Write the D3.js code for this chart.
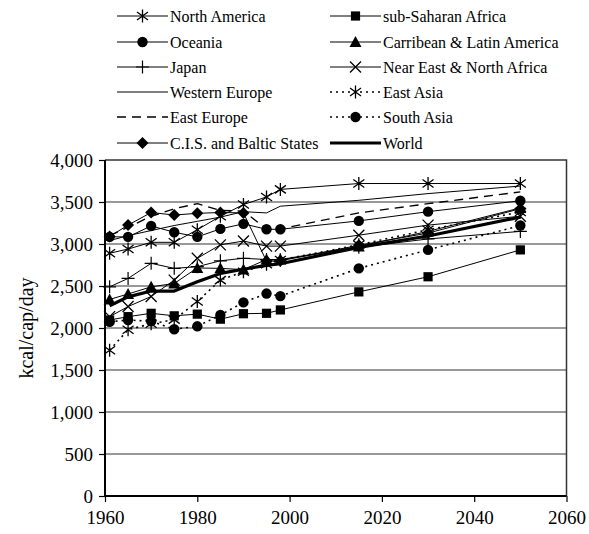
<!DOCTYPE html>
<html>
<head>
<meta charset="utf-8">
<script src="https://cdn.jsdelivr.net/npm/d3@7"></script>
<style>
  body { margin: 0; background: #fff; }
  svg { display: block; }
  text { font-family: "Liberation Serif", "Times New Roman", serif; fill: #000; }
</style>
</head>
<body>
<svg id="chart" width="589" height="534"></svg>
<script>
// Food supply per person, kcal/cap/day
const years = [1961, 1965, 1970, 1975, 1980, 1985, 1990, 1995, 1998, 2015, 2030, 2050];

const northAmerica     = [2890, 2940, 3020, 3020, 3170, 3330, 3470, 3560, 3650, 3720, 3720, 3720];
const subSaharanAfrica = [2095, 2135, 2175, 2145, 2165, 2105, 2170, 2175, 2215, 2430, 2610, 2930];
const oceania          = [3085, 3085, 3215, 3140, 3085, 3180, 3240, 3175, 3175, 3275, 3385, 3515];
const latinAmerica     = [2340, 2405, 2490, 2530, 2715, 2710, 2695, 2815, 2815, 2970, 3150, 3430];
const japan            = [2490, 2590, 2770, 2710, 2730, 2800, 2830, 2815, 2810, 2960, 3060, 3150];
const nearEast         = [2135, 2255, 2375, 2570, 2830, 2990, 3035, 2975, 2975, 3105, 3225, 3330];
const westernEurope    = [3040, 3100, 3160, 3220, 3270, 3320, 3385, 3370, 3450, 3520, 3600, 3690];
const eastAsia         = [1735, 1980, 2050, 2100, 2315, 2570, 2670, 2760, 2810, 2990, 3170, 3380];
const eastEurope       = [3100, 3200, 3330, 3420, 3480, 3400, 3390, 3180, 3180, 3370, 3480, 3620];
const southAsia        = [2075, 2095, 2080, 1985, 2020, 2155, 2305, 2410, 2380, 2710, 2930, 3220];
const cisBaltic        = [3090, 3225, 3375, 3345, 3365, 3375, 3370, 2795, 2800, 2985, 3130, 3420];
const world            = [2265, 2370, 2440, 2440, 2550, 2650, 2700, 2745, 2765, 2960, 3095, 3320];

const xTicks = [1960, 1980, 2000, 2020, 2040, 2060];
const yTicks = [0, 500, 1000, 1500, 2000, 2500, 3000, 3500, 4000];

// name, values, marker, line style
const series = [
  { name: "North America",              values: northAmerica,     marker: "asterisk", dash: null,  width: 1 },
  { name: "Oceania",                    values: oceania,          marker: "circle",   dash: null,  width: 1 },
  { name: "Japan",                      values: japan,            marker: "plus",     dash: null,  width: 1 },
  { name: "Western Europe",             values: westernEurope,    marker: null,       dash: null,  width: 1 },
  { name: "East Europe",                values: eastEurope,       marker: null,       dash: "9,6", width: 1.4 },
  { name: "C.I.S. and Baltic States",   values: cisBaltic,        marker: "diamond",  dash: null,  width: 1 },
  { name: "sub-Saharan Africa",         values: subSaharanAfrica, marker: "square",   dash: null,  width: 1 },
  { name: "Carribean & Latin America",  values: latinAmerica,     marker: "triangle", dash: null,  width: 1 },
  { name: "Near East & North Africa",   values: nearEast,         marker: "x",        dash: null,  width: 1 },
  { name: "East Asia",                  values: eastAsia,         marker: "asterisk", dash: "2,4", width: 1.6 },
  { name: "South Asia",                 values: southAsia,        marker: "circle",   dash: "2,4", width: 1.6 },
  { name: "World",                      values: world,            marker: null,       dash: null,  width: 3.2 }
];

const svg = d3.select("#chart");
const plot = { left: 105, right: 566.5, top: 160, bottom: 496 };

const x = d3.scaleLinear().domain([1960, 2060]).range([plot.left, plot.right]);
const y = d3.scaleLinear().domain([0, 4000]).range([plot.bottom, plot.top]);

// horizontal gridlines
svg.append("g")
  .selectAll("line")
  .data(yTicks.filter(v => v > 0 && v < 4000))
  .join("line")
  .attr("x1", plot.left).attr("x2", plot.right)
  .attr("y1", d => y(d)).attr("y2", d => y(d))
  .attr("stroke", "#777").attr("stroke-width", 1.3);

// frame: top and right edges
svg.append("path")
  .attr("d", `M${plot.left},${plot.top}H${plot.right}V${plot.bottom}`)
  .attr("fill", "none").attr("stroke", "#333").attr("stroke-width", 1.5);

// axes
const xAxis = d3.axisBottom(x).tickValues(xTicks).tickFormat(d3.format("d")).tickSize(6).tickPadding(9);
const yAxis = d3.axisLeft(y).tickValues(yTicks).tickFormat(d3.format(",")).tickSize(6).tickPadding(6);

const gx = svg.append("g").attr("transform", `translate(0,${plot.bottom})`).call(xAxis);
const gy = svg.append("g").attr("transform", `translate(${plot.left},0)`).call(yAxis);
[gx, gy].forEach(g => {
  g.select(".domain").attr("stroke", "#000").attr("stroke-width", 2);
  g.selectAll(".tick line").attr("stroke", "#000").attr("stroke-width", 1.2);
  g.selectAll(".tick text").attr("font-size", 19).attr("font-family", "Liberation Serif, serif");
});
gy.select(".domain").attr("d", `M0,${plot.bottom}V${plot.top}`);
gx.select(".domain").attr("d", `M${plot.left},0H${plot.right}`);

// y axis title
svg.append("text")
  .attr("transform", `translate(33,${(plot.top + plot.bottom) / 2}) rotate(-90)`)
  .attr("text-anchor", "middle")
  .attr("font-size", 20)
  .text("kcal/cap/day");

// marker drawing
function drawMarker(g, type) {
  const s = 5.5;
  switch (type) {
    case "circle":
      g.append("circle").attr("r", 5.2).attr("fill", "#000");
      break;
    case "square":
      g.append("rect").attr("x", -4.6).attr("y", -4.6).attr("width", 9.2).attr("height", 9.2).attr("fill", "#000");
      break;
    case "triangle":
      g.append("path").attr("d", "M0,-6L6,5L-6,5Z").attr("fill", "#000");
      break;
    case "diamond":
      g.append("path").attr("d", "M0,-6L6,0L0,6L-6,0Z").attr("fill", "#000");
      break;
    case "plus":
      g.append("path").attr("d", `M0,-${s + 1}V${s + 1}M-${s + 1},0H${s + 1}`)
        .attr("stroke", "#000").attr("stroke-width", 1.2).attr("fill", "none");
      break;
    case "x":
      g.append("path").attr("d", `M-${s},-${s}L${s},${s}M-${s},${s}L${s},-${s}`)
        .attr("stroke", "#000").attr("stroke-width", 1.3).attr("fill", "none");
      break;
    case "asterisk":
      g.append("path").attr("d", `M0,-${s + 1}V${s + 1}M-${s},-${s - 1.5}L${s},${s - 1.5}M-${s},${s - 1.5}L${s},-${s - 1.5}`)
        .attr("stroke", "#000").attr("stroke-width", 1.3).attr("fill", "none");
      break;
  }
}

const line = d3.line().x((d, i) => x(years[i])).y(d => y(d));

const gSeries = svg.append("g");
series.forEach(sr => {
  const g = gSeries.append("g");
  g.append("path")
    .attr("d", line(sr.values))
    .attr("fill", "none")
    .attr("stroke", "#000")
    .attr("stroke-width", sr.width)
    .attr("stroke-dasharray", sr.dash)
    .attr("stroke-linejoin", "round");
  if (sr.marker) {
    sr.values.forEach((v, i) => {
      const m = g.append("g").attr("transform", `translate(${x(years[i])},${y(v)})`);
      drawMarker(m, sr.marker);
    });
  }
});

// legend, two columns of six
const legendCols = [
  { x1: 117, x2: 168, tx: 170 },
  { x1: 330, x2: 381, tx: 383 }
];
const legendRows = [16, 42, 67, 92, 117, 143];
const legend = svg.append("g");
series.forEach((sr, i) => {
  const col = legendCols[Math.floor(i / 6)];
  const ry = legendRows[i % 6];
  const g = legend.append("g");
  g.append("line")
    .attr("x1", col.x1).attr("x2", col.x2).attr("y1", ry).attr("y2", ry)
    .attr("stroke", "#000").attr("stroke-width", sr.width)
    .attr("stroke-dasharray", sr.dash);
  if (sr.marker) {
    const m = g.append("g").attr("transform", `translate(${(col.x1 + col.x2) / 2},${ry})`);
    drawMarker(m, sr.marker);
  }
  g.append("text")
    .attr("x", col.tx).attr("y", ry).attr("dy", "0.35em")
    .attr("font-size", 16)
    .text(sr.name);
});
</script>
</body>
</html>
